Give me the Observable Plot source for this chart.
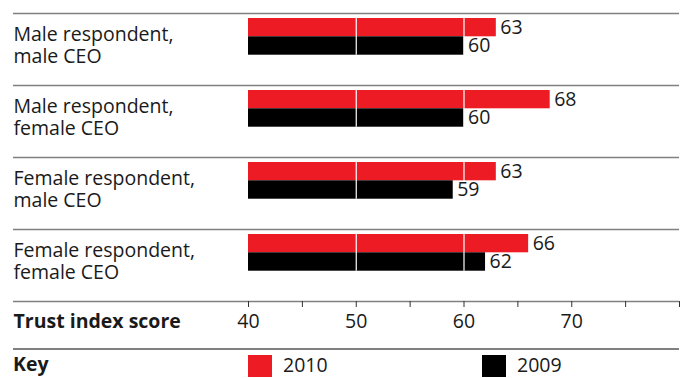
<!DOCTYPE html>
<html>
<head>
<meta charset="utf-8">
<script src="https://cdn.jsdelivr.net/npm/d3@7"></script>
<script src="https://cdn.jsdelivr.net/npm/@observablehq/plot@0.6"></script>
<style>
  html, body { margin: 0; padding: 0; background: #fff; }
  #wrap { position: relative; width: 686px; height: 378px; font-family: "Open Sans", sans-serif; color: #1a1a1a; }
  #key { position: absolute; left: 13px; top: 348px; width: 666px; height: 30px; border-top: 2px solid #808080; }
  #key span { position: absolute; font-size: 19.5px; line-height: 1; }
  #key .sw { position: absolute; width: 24px; height: 22px; top: 5px; }
</style>
</head>
<body>
<div id="wrap"></div>
<script>
// ---- data ----
const categories = [
  "Male respondent,\nmale CEO",
  "Male respondent,\nfemale CEO",
  "Female respondent,\nmale CEO",
  "Female respondent,\nfemale CEO"
];
const values2010 = [63, 68, 63, 66];
const values2009 = [60, 60, 59, 62];
const years = ["2010", "2009"];
const yearColors = ["#ED1C24", "#000000"];
const axisTicks = [40, 45, 50, 55, 60, 65, 70, 75, 80];
const gridValues = [50, 60];
const axisTitle = "Trust index score";
const keyTitle = "Key";

const rows = categories.map((c, i) => ({cat: c, v2010: values2010[i], v2009: values2009[i]}));
const grid = categories.flatMap(c => gridValues.map(v => ({cat: c, x: v})));

const band = (301 - 13) / categories.length;
const lineColor = "#808080";

const chart = Plot.plot({
  width: 686,
  height: 348,
  marginLeft: 13,
  marginRight: 7,
  marginTop: 13,
  marginBottom: 47,
  style: {fontFamily: "Open Sans, sans-serif", fontSize: "19.5px", color: "#1a1a1a", background: "transparent"},
  x: {domain: [40, 80], range: [248, 679]},
  y: {domain: categories, padding: 0, axis: null},
  marks: [
    Plot.ruleY(categories, {y: d => d, dy: -band / 2, stroke: lineColor, strokeWidth: 1.7}),
    Plot.ruleY([categories[categories.length - 1]], {y: d => d, dy: band / 2, stroke: lineColor, strokeWidth: 1.7}),
    Plot.barX(rows, {y: "cat", x1: 40, x2: "v2010", fill: yearColors[0], insetTop: 5, insetBottom: band - 23.3}),
    Plot.barX(rows, {y: "cat", x1: 40, x2: "v2009", fill: yearColors[1], insetTop: 23.3, insetBottom: band - 41.7}),
    Plot.tickX(grid, {x: "x", y: "cat", insetTop: 5, insetBottom: band - 41.7, stroke: "white", strokeWidth: 1.2}),
    Plot.text(rows, {y: "cat", x: "v2010", text: d => d.v2010, dx: 4, dy: -22, textAnchor: "start", fill: "#1a1a1a"}),
    Plot.text(rows, {y: "cat", x: "v2009", text: d => d.v2009, dx: 4, dy: -3.5, textAnchor: "start", fill: "#1a1a1a"}),
    Plot.text(rows, {y: "cat", text: "cat", frameAnchor: "left", textAnchor: "start", dy: -5, lineHeight: 1.13, fill: "#1a1a1a"}),
    Plot.axisX({ticks: axisTicks, tickSize: 6, tickPadding: 7, stroke: "#333", fill: "#1a1a1a",
      tickFormat: d => (d % 10 === 0 && d < 80 ? String(d) : ""), fontSize: 19.5}),
    Plot.text([axisTitle], {frameAnchor: "bottom-left", textAnchor: "start", lineAnchor: "top", dy: 13, fontWeight: "bold", fill: "#1a1a1a"})
  ]
});

const wrap = document.getElementById("wrap");
chart.style.position = "absolute";
chart.style.left = "0";
chart.style.top = "0";
wrap.appendChild(chart);

const key = document.createElement("div");
key.id = "key";
wrap.appendChild(key);
const kt = document.createElement("span");
kt.textContent = keyTitle;
kt.style.left = "0px"; kt.style.top = "4px"; kt.style.fontWeight = "bold";
key.appendChild(kt);
const swLeft = [235, 469];
years.forEach((y, i) => {
  const sw = document.createElement("div");
  sw.className = "sw";
  sw.style.left = swLeft[i] + "px";
  sw.style.background = yearColors[i];
  key.appendChild(sw);
  const t = document.createElement("span");
  t.textContent = y;
  t.style.left = (swLeft[i] + 35) + "px";
  t.style.top = "5px";
  key.appendChild(t);
});
</script>
</body>
</html>
